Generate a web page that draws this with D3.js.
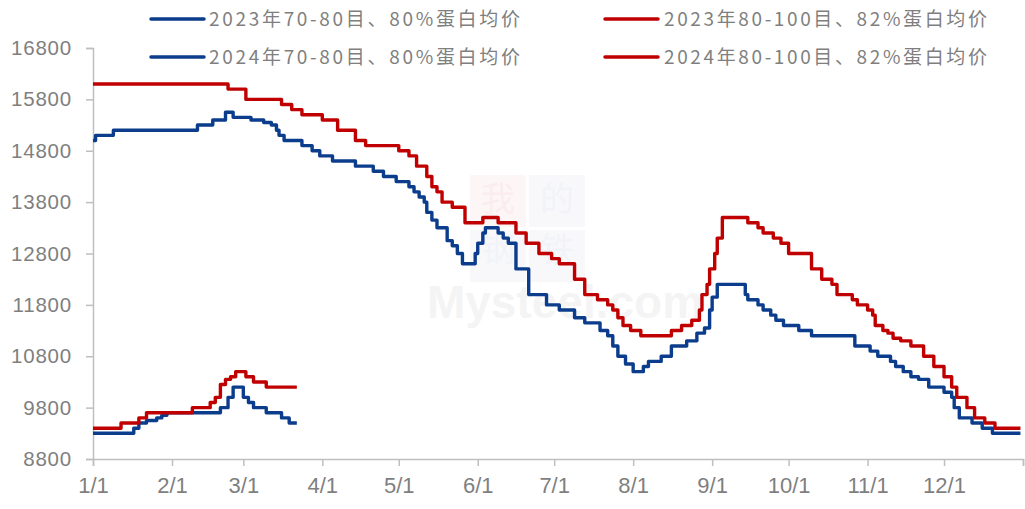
<!DOCTYPE html>
<html>
<head>
<meta charset="utf-8">
<script src="https://cdn.jsdelivr.net/npm/d3@7"></script>
<style>
  body { margin: 0; background: #fff; }
  svg { display: block; }
  .tick text { fill: #7f7f7f; font-family: "Liberation Sans", Arial, sans-serif; }
</style>
</head>
<body>
<div id="chart"></div>
<script>
var width = 1025, height = 509;

// 2023 70-80 mesh (blue), step points: date, value
var blue23Dates = ["01-01","01-02","01-09","02-11","02-17","02-22","02-25","03-04","03-09","03-12","03-14","03-15","03-17","03-24","03-28","03-31","04-05","04-14","04-21","04-25","04-30","05-05","05-07","05-09","05-11","05-12","05-14","05-16","05-20","05-22","05-24","05-26","05-31","06-01","06-03","06-04","06-09","06-11","06-13","06-16","06-21","06-28","07-03","07-09","07-13","07-19","07-22","07-24","07-26","07-29","08-01","08-05","08-07","08-12","08-16","08-22","08-26","08-29","08-31","09-01","09-03","09-14","09-15","09-19","09-21","09-24","09-26","09-29","10-05","10-10","10-27","11-02","11-05","11-10","11-12","11-15","11-18","11-21","11-25","12-01","12-04","12-05","12-07","12-12","12-16","12-20","12-31"];
var blue23Values = [15000,15100,15200,15300,15400,15550,15450,15400,15350,15300,15200,15100,15000,14900,14800,14700,14600,14500,14400,14300,14200,14100,14000,13900,13800,13600,13450,13300,13050,12950,12800,12600,12800,13000,13200,13300,13200,13100,13000,12500,12000,11800,11700,11550,11450,11300,11200,11000,10800,10650,10500,10600,10700,10800,11000,11100,11250,11350,11700,11950,12200,12000,11900,11800,11700,11600,11500,11400,11300,11200,11000,10900,10800,10700,10600,10500,10400,10350,10200,10100,10000,9800,9600,9500,9400,9300,9300];

// 2023 80-100 mesh (red)
var red23Dates = ["01-01","02-23","03-02","03-16","03-20","03-24","04-01","04-07","04-14","04-18","05-01","05-05","05-08","05-12","05-14","05-16","05-18","05-22","05-27","06-03","06-09","06-16","06-20","06-25","06-30","07-03","07-09","07-13","07-18","07-22","07-24","07-26","07-28","07-31","08-04","08-16","08-20","08-24","08-27","08-28","08-30","08-31","09-02","09-03","09-05","09-15","09-19","09-21","09-25","09-28","10-01","10-10","10-14","10-18","10-20","10-26","10-28","11-01","11-03","11-04","11-07","11-09","11-11","11-14","11-18","11-23","11-27","12-01","12-04","12-06","12-10","12-13","12-17","12-21","12-31"];
var red23Values = [16100,16000,15800,15700,15600,15500,15400,15200,15000,14900,14800,14700,14500,14300,14100,14000,13800,13700,13400,13500,13400,13200,13000,12800,12700,12600,12300,12000,11900,11800,11700,11550,11400,11300,11200,11300,11400,11500,11700,12000,12200,12500,12800,13100,13500,13400,13300,13200,13100,13000,12800,12500,12300,12200,12000,11900,11800,11700,11600,11400,11300,11250,11150,11100,11000,10800,10600,10400,10200,10000,9800,9600,9500,9400,9400];

// 2024 70-80 mesh (blue)
var blue24Dates = ["01-01","01-17","01-19","01-22","01-26","01-28","01-30","02-20","02-23","02-25","03-01","03-03","03-05","03-10","03-16","03-19","03-22"];
var blue24Values = [9300,9400,9500,9550,9600,9650,9700,9800,10000,10200,10000,9900,9800,9700,9600,9500,9500];

// 2024 80-100 mesh (red)
var red24Dates = ["01-01","01-12","01-19","01-22","02-09","02-16","02-18","02-20","02-22","02-24","02-26","03-02","03-05","03-10","03-22"];
var red24Values = [9400,9500,9600,9700,9800,9900,10000,10250,10350,10400,10500,10400,10300,10200,10200];

var yTicks = [8800, 9800, 10800, 11800, 12800, 13800, 14800, 15800, 16800];
var monthLabels = ["1/1","2/1","3/1","4/1","5/1","6/1","7/1","8/1","9/1","10/1","11/1","12/1"];
var seriesNames = ["2023年70-80目、80%蛋白均价", "2023年80-100目、82%蛋白均价",
                   "2024年70-80目、80%蛋白均价", "2024年80-100目、82%蛋白均价"];

var BLUE = "#0b3d8c", RED = "#c00000";

var parseMD = function(md) { return d3.timeParse("%Y-%m-%d")("2023-" + md); };

var svg = d3.select('#chart').append('svg')
    .attr('width', width)
    .attr('height', height);

var x = d3.scaleTime()
    .domain([new Date(2023, 0, 1), new Date(2024, 0, 1)])
    .range([93, 1023]);
var y = d3.scaleLinear()
    .domain([8800, 16800])
    .range([459, 48]);

// watermark (faint)
var wm = svg.append('g').attr('opacity', 0.4);
wm.append('rect').attr('x', 470).attr('y', 175).attr('width', 56).attr('height', 52).attr('fill', '#fbeaea');
wm.append('rect').attr('x', 529).attr('y', 175).attr('width', 56).attr('height', 52).attr('fill', '#eef0f6');
wm.append('rect').attr('x', 470).attr('y', 230).attr('width', 56).attr('height', 52).attr('fill', '#eef0f6');
wm.append('rect').attr('x', 529).attr('y', 230).attr('width', 56).attr('height', 52).attr('fill', '#eef0f6');
wm.selectAll('text.wmc').data(["我","的","钢","铁"]).enter().append('text')
    .attr('x', function(d, i) { return 498 + (i % 2) * 59; })
    .attr('y', function(d, i) { return 211 + Math.floor(i / 2) * 51; })
    .attr('text-anchor', 'middle')
    .attr('font-family', '"Noto Sans CJK SC", sans-serif')
    .attr('font-size', 34)
    .attr('fill', function(d, i) { return i === 0 ? '#f6d3d3' : '#dde2ee'; })
    .text(function(d) { return d; });
wm.append('text')
    .attr('x', 565).attr('y', 318)
    .attr('text-anchor', 'middle')
    .attr('font-family', '"Liberation Sans", Arial, sans-serif')
    .attr('font-weight', 'bold')
    .attr('font-size', 46)
    .attr('fill', '#e6e6e6')
    .text('Mysteel.com');

// axes
var yAxis = svg.append('g')
    .attr('transform', 'translate(93,0)')
    .call(d3.axisLeft(y).tickValues(yTicks).tickSize(7).tickPadding(14).tickFormat(d3.format('d')));
yAxis.selectAll('text').attr('font-size', 20.5).attr('letter-spacing', '0.8px');

var monthTicks = d3.range(0, 13).map(function(m) { return new Date(2023, m, 1); });
var xAxis = svg.append('g')
    .attr('transform', 'translate(0,459)')
    .call(d3.axisBottom(x).tickValues(monthTicks).tickSize(7).tickPadding(11)
        .tickFormat(function(d, i) { return monthLabels[i] || ''; }));
xAxis.selectAll('text').attr('font-size', 22);

svg.selectAll('.domain, .tick line').attr('stroke', '#bfbfbf').attr('stroke-width', 1.5);

// lines
var line = d3.line()
    .x(function(d) { return x(d.date); })
    .y(function(d) { return y(d.value); })
    .curve(d3.curveStepAfter);

function toPoints(dates, values) {
  return dates.map(function(md, i) { return { date: parseMD(md), value: values[i] }; });
}

var series = [
  { pts: toPoints(blue23Dates, blue23Values), color: BLUE },
  { pts: toPoints(red23Dates, red23Values), color: RED },
  { pts: toPoints(blue24Dates, blue24Values), color: BLUE },
  { pts: toPoints(red24Dates, red24Values), color: RED }
];

svg.selectAll('path.series').data(series).enter().append('path')
    .attr('class', 'series')
    .attr('d', function(d) { return line(d.pts); })
    .attr('fill', 'none')
    .attr('stroke', function(d) { return d.color; })
    .attr('stroke-width', 3.4)
    .attr('stroke-linejoin', 'round');

// legend
var legendPos = [
  { lx: 151, tx: 209, y: 19, w: 311, color: BLUE },
  { lx: 605, tx: 664, y: 19, w: 323, color: RED },
  { lx: 151, tx: 209, y: 57, w: 311, color: BLUE },
  { lx: 605, tx: 664, y: 57, w: 323, color: RED }
];
var legend = svg.selectAll('g.legend').data(seriesNames).enter().append('g').attr('class', 'legend');
legend.append('line')
    .attr('x1', function(d, i) { return legendPos[i].lx; })
    .attr('x2', function(d, i) { return legendPos[i].lx + 53; })
    .attr('y1', function(d, i) { return legendPos[i].y; })
    .attr('y2', function(d, i) { return legendPos[i].y; })
    .attr('stroke', function(d, i) { return legendPos[i].color; })
    .attr('stroke-width', 3.5)
    .attr('stroke-linecap', 'round');
legend.append('text')
    .attr('x', function(d, i) { return legendPos[i].tx; })
    .attr('y', function(d, i) { return legendPos[i].y; })
    .attr('dy', '0.35em')
    .attr('font-family', '"Noto Sans CJK SC", "Noto Sans", sans-serif')
    .attr('font-size', 19)
    .attr('fill', '#7f7f7f')
    .attr('textLength', function(d, i) { return legendPos[i].w; })
    .attr('lengthAdjust', 'spacing')
    .text(function(d) { return d; });
</script>
</body>
</html>
